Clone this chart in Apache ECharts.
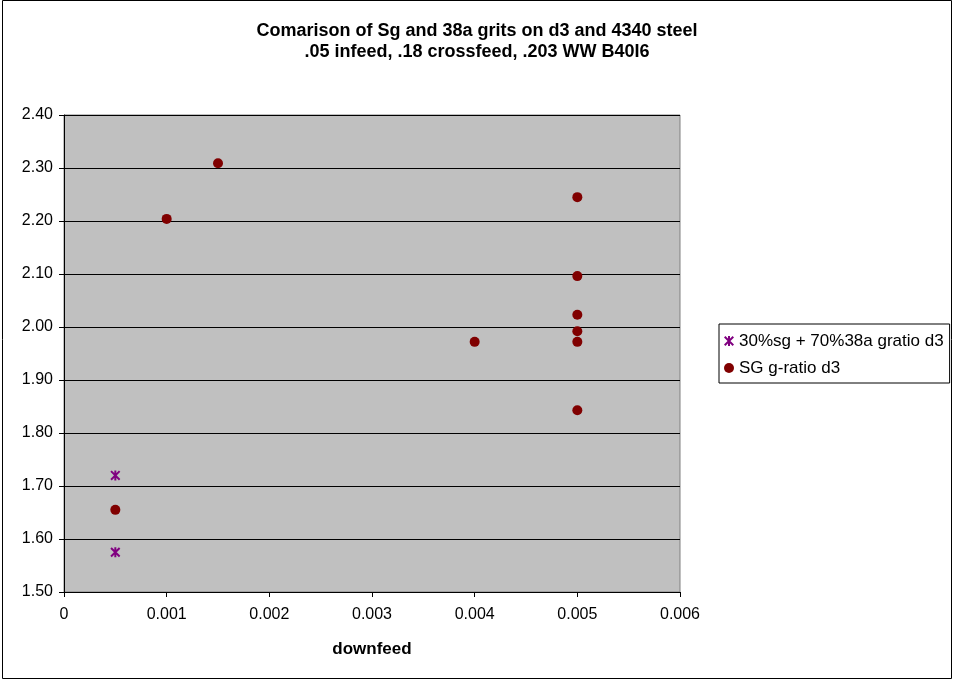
<!DOCTYPE html>
<html><head><meta charset="utf-8">
<script src="https://cdn.jsdelivr.net/npm/echarts@6/dist/echarts.min.js"></script>
<style>html,body{margin:0;padding:0;background:#fff}#c{width:954px;height:680px}</style>
</head><body><div id="c"></div>
<script>
const titleText = 'Comarison of Sg and 38a grits on d3 and 4340 steel\n.05 infeed, .18 crossfeed, .203 WW B40I6';
const xAxisName = 'downfeed';
const seriesNames = ['30%sg + 70%38a gratio d3', 'SG g-ratio d3'];
const mixX = [0.0005, 0.0005];
const mixY = [1.72, 1.575];
const sgX = [0.0005, 0.001, 0.0015, 0.004, 0.005, 0.005, 0.005, 0.005, 0.005, 0.005];
const sgY = [1.655, 2.204, 2.309, 1.972, 2.245, 2.096, 2.023, 1.992, 1.972, 1.843];

const starPath = 'path://M4,0 L6,0 L6,10 L4,10 Z M0,1.4 L1.4,0 L10,8.6 L8.6,10 Z M8.6,0 L10,1.4 L1.4,10 L0,8.6 Z';
const font = '"Liberation Sans", Arial, sans-serif';

const chart = echarts.init(document.getElementById('c'), null, {renderer: 'canvas'});
chart.setOption({
  backgroundColor: '#ffffff',
  animation: false,
  title: {
    text: titleText, left: 'center', top: 16,
    textStyle: {fontFamily: font, fontSize: 18, fontWeight: 'bold', color: '#000', lineHeight: 21}
  },
  graphic: [{
    type: 'rect', shape: {x: 2.5, y: 0.5, width: 949, height: 678},
    style: {fill: 'none', stroke: '#000', lineWidth: 1}, silent: true
  }],
  legend: {
    orient: 'vertical', left: 719, top: 324, width: 228,
    padding: [8, 6, 6, 5], itemGap: 9,
    borderColor: '#000', borderWidth: 1, backgroundColor: '#fff',
    itemWidth: 10, itemHeight: 10,
    textStyle: {fontFamily: font, fontSize: 17, color: '#000', lineHeight: 18},
    data: [
      {name: seriesNames[0], icon: starPath},
      {name: seriesNames[1], icon: 'circle'}
    ]
  },
  grid: {
    left: 64, top: 115, right: 274, bottom: 88,
    show: true, backgroundColor: '#c0c0c0', borderColor: '#808080', borderWidth: 1
  },
  xAxis: {
    type: 'value', min: 0, max: 0.006, interval: 0.001,
    name: xAxisName, nameLocation: 'middle', nameGap: 49,
    nameTextStyle: {fontFamily: font, fontSize: 17, fontWeight: 'bold', color: '#000'},
    axisLine: {show: true, onZero: false, lineStyle: {color: '#000', width: 1}},
    axisTick: {show: true, inside: false, length: 5, lineStyle: {color: '#000'}},
    axisLabel: {fontFamily: font, fontSize: 16, color: '#000', margin: 15,
      formatter: v => v === 0 ? '0' : v.toFixed(3)},
    splitLine: {show: false}
  },
  yAxis: {
    type: 'value', min: 1.5, max: 2.4, interval: 0.1,
    axisLine: {show: true, onZero: false, lineStyle: {color: '#000', width: 1}},
    axisTick: {show: true, inside: false, length: 5, lineStyle: {color: '#000'}},
    axisLabel: {fontFamily: font, fontSize: 16, color: '#000', margin: 11,
      formatter: v => v.toFixed(2)},
    splitLine: {show: true, lineStyle: {color: '#000', width: 1}}
  },
  series: [
    {
      name: seriesNames[0], type: 'scatter', symbol: starPath, symbolSize: 10,
      itemStyle: {color: '#800080', opacity: 1},
      data: mixX.map((x, i) => [x, mixY[i]])
    },
    {
      name: seriesNames[1], type: 'scatter', symbol: 'circle', symbolSize: 10,
      itemStyle: {color: '#800000', opacity: 1},
      data: sgX.map((x, i) => [x, sgY[i]])
    }
  ]
});
</script></body></html>
